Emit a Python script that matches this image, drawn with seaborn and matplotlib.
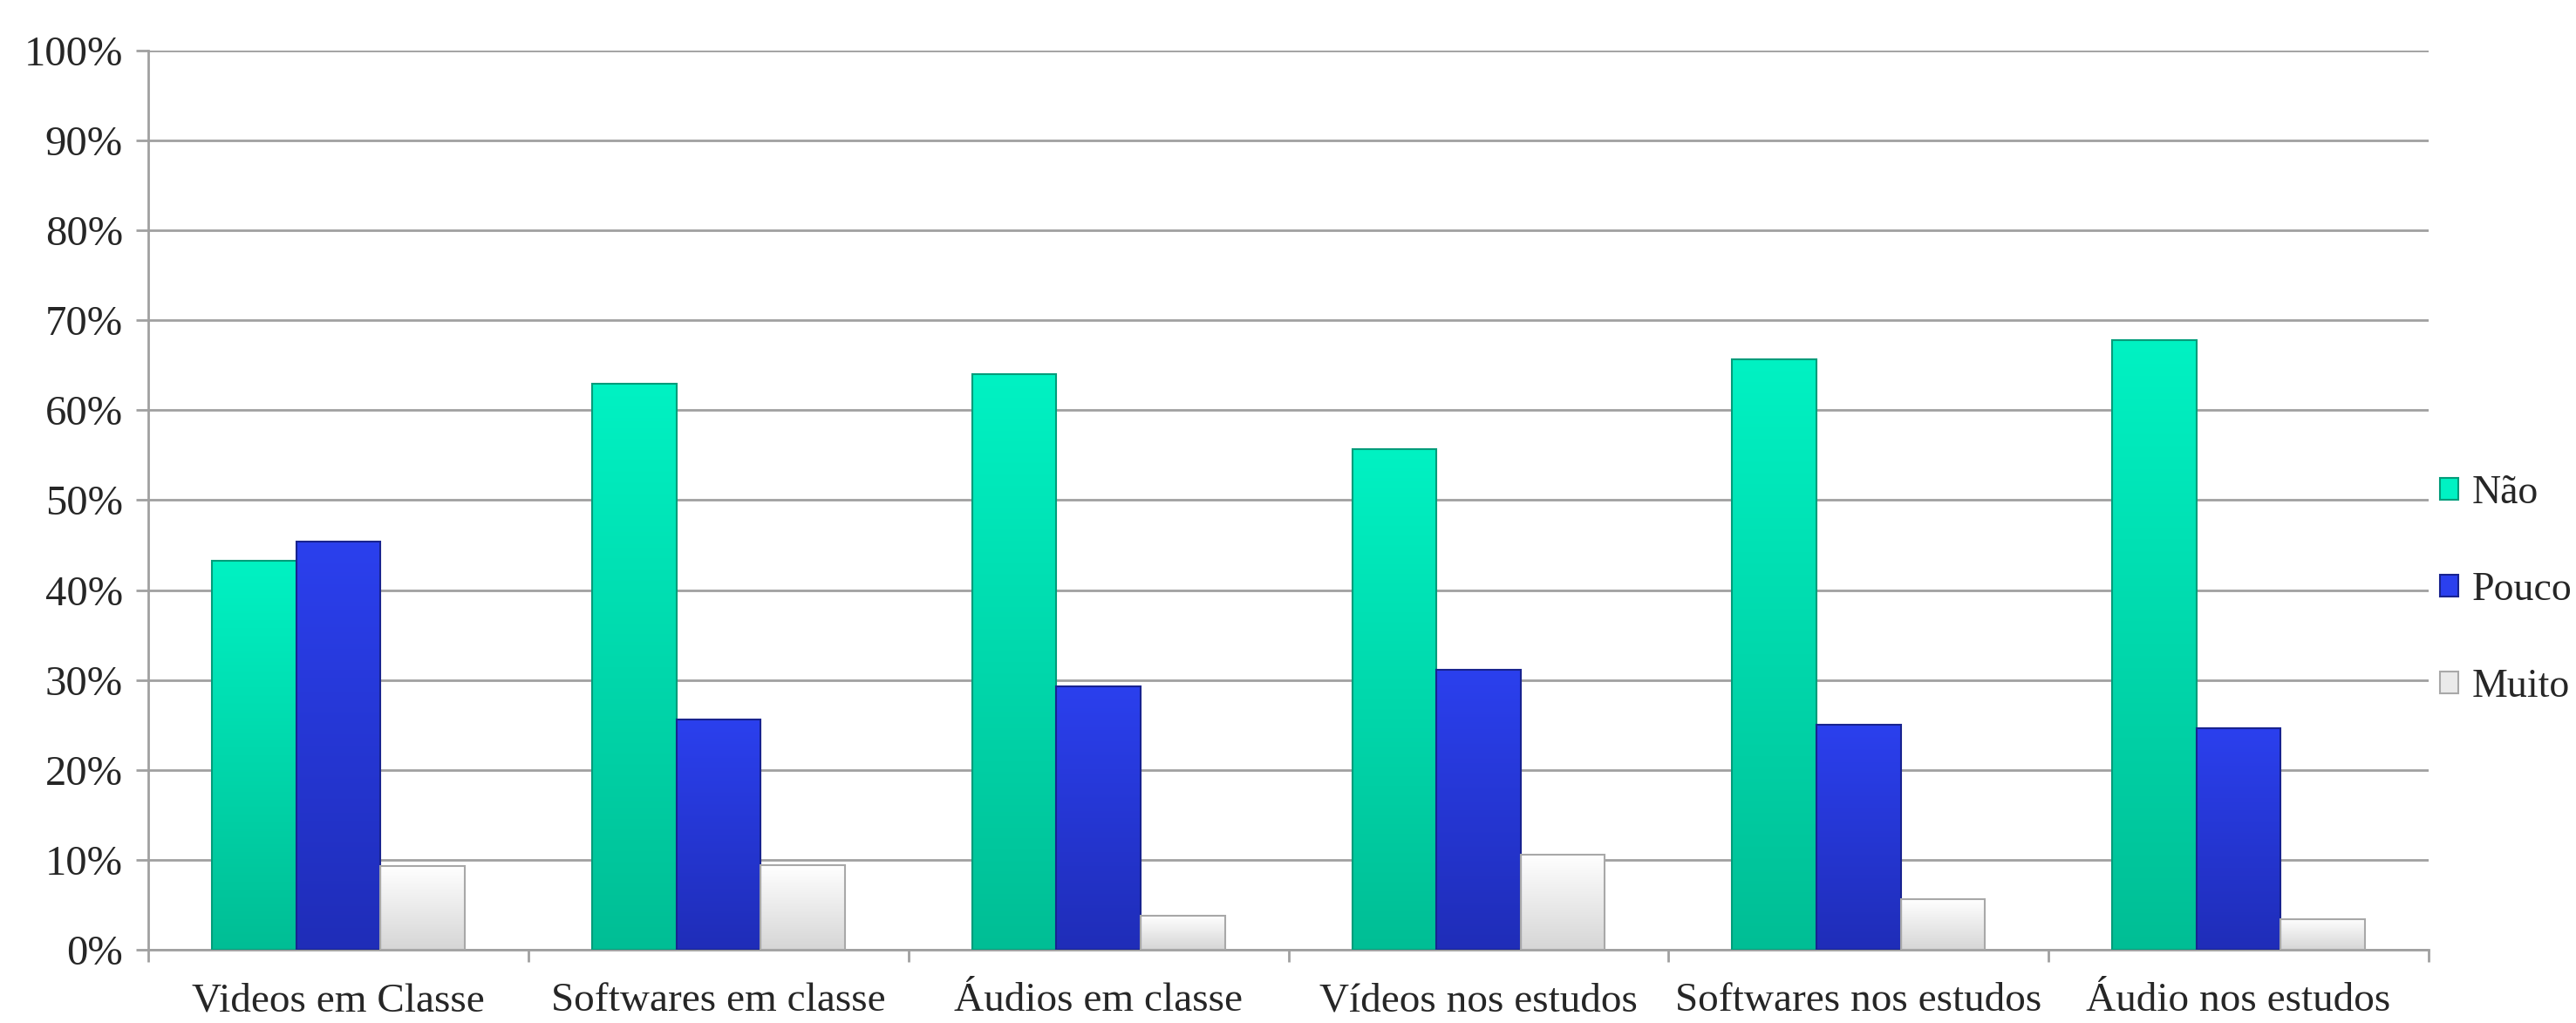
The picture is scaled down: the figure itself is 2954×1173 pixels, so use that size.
import numpy as np
import pandas as pd
import matplotlib
matplotlib.use("Agg")
import matplotlib.pyplot as plt
import seaborn as sns
from matplotlib.patches import Patch
from matplotlib.colors import LinearSegmentedColormap
from matplotlib.ticker import PercentFormatter, FixedLocator

# dados (percentual)
categorias = ["Videos em Classe", "Softwares em classe", "Áudios em classe",
              "Vídeos nos estudos", "Softwares nos estudos", "Áudio nos estudos"]
respostas = ["Não", "Pouco", "Muito"]
nao = [43.3, 62.9, 64.0, 55.7, 65.7, 67.8]
pouco = [45.4, 25.6, 29.3, 31.1, 25.0, 24.6]
muito = [9.3, 9.4, 3.8, 10.6, 5.6, 3.4]

df = pd.DataFrame({
    "categoria": categorias * 3,
    "resposta": ["Não"] * 6 + ["Pouco"] * 6 + ["Muito"] * 6,
    "valor": nao + pouco + muito,
})

# cores (topo claro -> base escura), imitando o gradiente do Excel
cores_topo = {"Não": "#00F2C3", "Pouco": "#2B40EE", "Muito": "#FFFFFF"}
cores_base = {"Não": "#00BE95", "Pouco": "#1F2DB8", "Muito": "#D6D6D6"}
cores_borda = {"Não": "#009C7A", "Pouco": "#18238F", "Muito": "#A8A8A8"}
paleta = {k: cores_base[k] for k in respostas}

sns.set_style("white")
plt.rcParams["font.family"] = ["Liberation Serif", "DejaVu Serif"]

fig = plt.figure(figsize=(29.54, 11.73), dpi=100)
ax = fig.add_axes([0.0576, 0.0716, 0.8852, 0.879])

sns.barplot(data=df, x="categoria", y="valor", hue="resposta", hue_order=respostas,
            palette=paleta, saturation=1, width=0.665, gap=0, errorbar=None,
            legend=False, ax=ax, zorder=3)

# gradiente vertical em cada barra
for resp, cont in zip(respostas, ax.containers):
    cmap = LinearSegmentedColormap.from_list(resp, [cores_base[resp], cores_topo[resp]])
    grad = np.linspace(0, 1, 256).reshape(-1, 1)
    for bar in cont:
        x0, y0 = bar.get_x(), bar.get_y()
        w, h = bar.get_width(), bar.get_height()
        ax.imshow(grad, extent=[x0, x0 + w, y0, y0 + h], origin="lower",
                  cmap=cmap, aspect="auto", zorder=3.5, interpolation="bilinear")
        bar.set_facecolor("none")
        bar.set_edgecolor(cores_borda[resp])
        bar.set_linewidth(1.5)
        bar.set_zorder(4)

ax.set_xlim(-0.5, 5.5)
ax.set_ylim(0, 100)
ax.yaxis.set_major_locator(FixedLocator(np.arange(0, 101, 10)))
ax.yaxis.set_major_formatter(PercentFormatter(100, decimals=0))
ax.grid(axis="y", color="#A0A0A0", linewidth=2, zorder=0)
ax.set_axisbelow(True)

for lado in ["top", "right"]:
    ax.spines[lado].set_visible(False)
for lado in ["left", "bottom"]:
    ax.spines[lado].set_color("#A0A0A0")
    ax.spines[lado].set_linewidth(2)

ax.set_xlabel("")
ax.set_ylabel("")
ax.tick_params(axis="y", length=10, width=2, color="#A0A0A0", pad=11,
               labelsize=35, left=True, direction="out")
ax.tick_params(axis="x", which="major", length=0, pad=27, labelsize=34)
ax.set_xticks(np.arange(-0.5, 5.6, 1), minor=True)
ax.tick_params(axis="x", which="minor", length=10, width=2, color="#A0A0A0",
               bottom=True, direction="out")

handles = [Patch(facecolor=cores_topo[r] if r != "Muito" else "#EAEAEA",
                 edgecolor=cores_borda[r], linewidth=1.5, label=r) for r in respostas]
ax.legend(handles=handles, loc="center left", bbox_to_anchor=(1.005, 0.40),
          frameon=False, fontsize=33, handlelength=0.45, handleheight=0.45,
          handletextpad=0.35, labelspacing=1.5, borderpad=0, borderaxespad=0)

fig.savefig("out.png", dpi=100)
